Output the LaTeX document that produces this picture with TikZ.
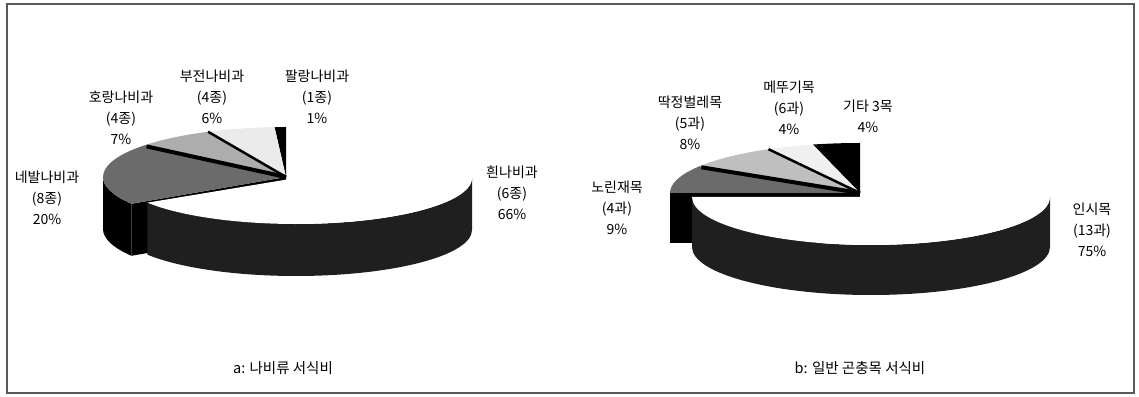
\documentclass[tikz,border=0pt]{standalone}
\usepackage{fontspec}
\setmainfont{Noto Sans CJK KR}
\usetikzlibrary{positioning}

\begin{document}
\begin{tikzpicture}[x=1pt,y=1pt,align=center]
\tikzstyle{pielabel}=[font=\fontsize{14}{21}\selectfont,inner sep=0pt]
\tikzstyle{charttitle}=[font=\fontsize{14.5}{16}\selectfont,inner sep=0pt]
\tikzstyle{bigside}=[fill=black!88]
\tikzstyle{bigtop}=[fill=white]
\tikzstyle{face}=[fill=black]
\tikzstyle{seam}=[draw=black,line cap=butt]

\useasboundingbox (0,0) rectangle (1139,396);
\draw[black!65,line width=1.5pt] (7,3) rectangle (1134,392);

\coordinate (aC) at (286,219);
\coordinate (aB) at (296,218);

\fill[face] (aC) ++(180:183 and 50) arc[start angle=180,end angle=212.4,x radius=183,y radius=50] -- ++(0,-52) arc[start angle=212.4,end angle=180,x radius=183,y radius=50] -- cycle;
\fill[face] (aC) -- ++(212.4:183 and 50) -- ++(0,-52) -- ([yshift=-52pt]aC) -- cycle;

\fill[black] (aC) -- ++(90:183 and 50) arc[start angle=90,end angle=93.6,x radius=183,y radius=50] -- cycle;
\fill[black!8] (aC) -- ++(93.6:183 and 50) arc[start angle=93.6,end angle=115.2,x radius=183,y radius=50] -- cycle;
\fill[black!32] (aC) -- ++(115.2:183 and 50) arc[start angle=115.2,end angle=140.4,x radius=183,y radius=50] -- cycle;
\fill[black!58] (aC) -- ++(140.4:183 and 50) arc[start angle=140.4,end angle=212.4,x radius=183,y radius=50] -- cycle;
\draw[seam,line width=2.5pt] (aC) -- ++(115.2:183 and 50);
\draw[seam,line width=4pt] (aC) -- ++(140.4:181 and 48);

\fill[bigside] (aB) ++(212.4:176 and 46) arc[start angle=212.4,end angle=360,x radius=176,y radius=46] -- ++(0,-52) arc[start angle=360,end angle=212.4,x radius=176,y radius=46] -- cycle;
\fill[bigtop] (aB) -- ++(212.4:176 and 46) arc[start angle=212.4,end angle=450,x radius=176,y radius=46] -- cycle;

\coordinate (bC) at (860,203);
\coordinate (bB) at (871,199);

\fill[face] (bC) -- ++(180:190 and 50) -- ++(0,-50) -- ([yshift=-50pt]bC) -- cycle;

\fill[black] (bC) -- ++(90:190 and 50) arc[start angle=90,end angle=104.4,x radius=190,y radius=50] -- cycle;
\fill[black!6] (bC) -- ++(104.4:190 and 50) arc[start angle=104.4,end angle=118.8,x radius=190,y radius=50] -- cycle;
\fill[black!25] (bC) -- ++(118.8:190 and 50) arc[start angle=118.8,end angle=147.6,x radius=190,y radius=50] -- cycle;
\fill[black!58] (bC) -- ++(147.6:190 and 50) arc[start angle=147.6,end angle=180,x radius=190,y radius=50] -- cycle;
\draw[seam,line width=2.5pt] (bC) -- ++(118.8:190 and 50);
\draw[seam,line width=4pt] (bC) -- ++(147.6:188 and 48);

\fill[bigside] (bB) ++(180:179 and 48) arc[start angle=180,end angle=360,x radius=179,y radius=48] -- ++(0,-50) arc[start angle=360,end angle=180,x radius=179,y radius=48] -- cycle;
\fill[bigtop] (bB) -- ++(180:179 and 48) arc[start angle=180,end angle=450,x radius=179,y radius=48] -- cycle;

\node[pielabel] (nebal) at (47,198) {네발나비과\\(8종)\\20\%};
\node[pielabel] (horang) at (121,278) {호랑나비과\\(4종)\\7\%};
\node[pielabel] (bujeon) at (212,299) {부전나비과\\(4종)\\6\%};
\node[pielabel] (palang) at (317,299) {팔랑나비과\\(1종)\\1\%};
\node[pielabel] (huin) at (512,203) {흰나비과\\(6종)\\66\%};
\node[charttitle] (titlea) at (283,28) {a: 나비류 서식비};

\node[pielabel] (norin) at (617,188) {노린재목\\(4과)\\9\%};
\node[pielabel] (ttak) at (690,273) {딱정벌레목\\(5과)\\8\%};
\node[pielabel] (medduk) at (789,288) {메뚜기목\\(6과)\\4\%};
\node[pielabel] (gita) at (868,280) {기타 3목\\4\%};
\node[pielabel] (insi) at (1092,166) {인시목\\(13과)\\75\%};
\node[charttitle] (titleb) at (860,28) {b: 일반 곤충목 서식비};
\end{tikzpicture}
\end{document}
